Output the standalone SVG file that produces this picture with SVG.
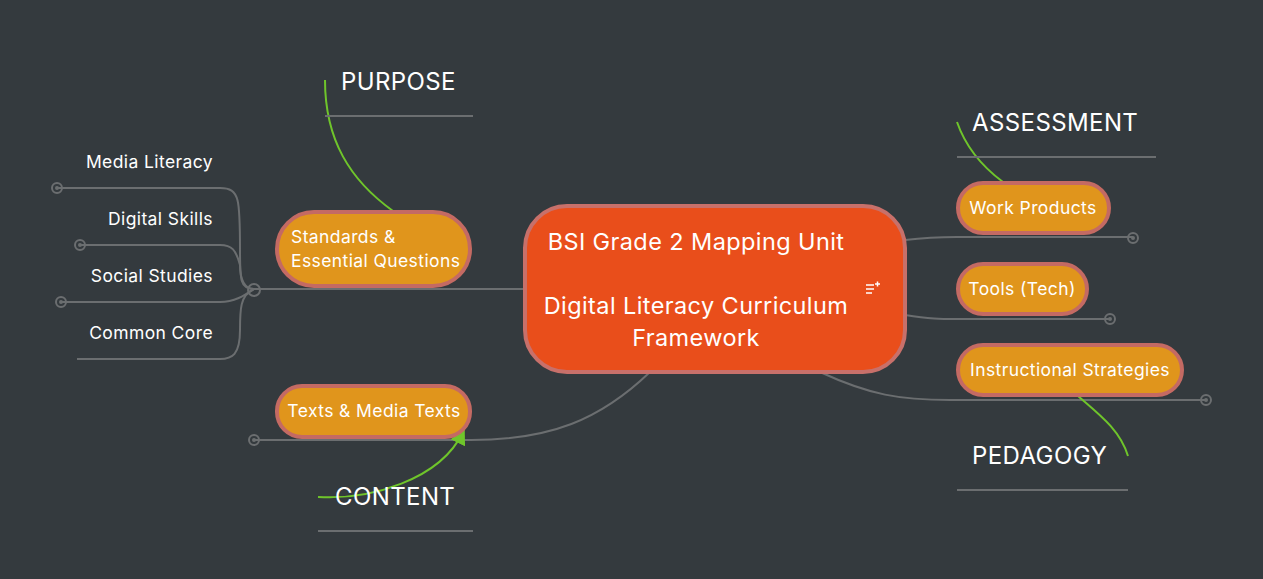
<svg xmlns="http://www.w3.org/2000/svg" width="1263" height="579" viewBox="0 0 1263 579">
<style>
text{font-family:Inter,"Noto Sans",sans-serif;fill:#fff;letter-spacing:0.4px}
.c{fill:none;stroke:#6b6e70;stroke-width:2}
.g{fill:none;stroke:#6fc52b;stroke-width:2}
.u{stroke:#6b6e70;stroke-width:2}
.sub{fill:#e0951c;stroke:#c46a63;stroke-width:4}
.s{font-size:17.5px}
.l{font-size:17.5px}
.end{fill:none;stroke:#6b6e70;stroke-width:2}
.dot{fill:#6b6e70}
</style>
<defs><marker id="ah" markerWidth="8" markerHeight="8" refX="6" refY="4" orient="auto"><path d="M0,0L8,4L0,8z" fill="#6fc52b"/></marker></defs>
<rect width="1263" height="579" fill="#343a3e"/>
<g id="connectors">
<path class="c" d="M254,289H525"/>
<path class="c" d="M254,289C240,289 240,280 240,250 C240,200 240,188 220,188 H57"/>
<path class="c" d="M254,289C245,289 240,280 240,265 C236,250 232,245 220,245 H80"/>
<path class="c" d="M254,289C245,295 235,302 220,302 H61"/>
<path class="c" d="M254,289C240,295 240,310 240,330 C240,355 232,359 220,359 H77"/>
<path class="c" d="M650,372C600,420 550,440 471,440 H254"/>
<path class="c" d="M905,240C930,237 940,237 957,237 H1133"/>
<path class="c" d="M905,315C930,319 940,319 957,319 H1110"/>
<path class="c" d="M820,372C870,395 900,400 950,400 H1205"/>
<circle class="end" cx="254" cy="290" r="6" fill="#343a3e"/>
<g><circle class="end" cx="57" cy="188" r="5"/><circle class="dot" cx="57" cy="188" r="2"/></g>
<g><circle class="end" cx="80" cy="245" r="5"/><circle class="dot" cx="80" cy="245" r="2"/></g>
<g><circle class="end" cx="61" cy="302" r="5"/><circle class="dot" cx="61" cy="302" r="2"/></g>
<g><circle class="end" cx="254" cy="440" r="5"/><circle class="dot" cx="254" cy="440" r="2"/></g>
<g><circle class="end" cx="1133" cy="238" r="5"/><circle class="dot" cx="1133" cy="238" r="2"/></g>
<g><circle class="end" cx="1110" cy="319" r="5"/><circle class="dot" cx="1110" cy="319" r="2"/></g>
<g><circle class="end" cx="1206" cy="400" r="5"/><circle class="dot" cx="1206" cy="400" r="2"/></g>
<path class="g" d="M325,80C325,140 350,180 393,211"/>
<path class="g" d="M957,122C965,145 980,165 1003,182"/>
<path class="g" d="M1078,396C1100,415 1120,430 1128,456"/>
<path class="g" d="M318,497C370,500 440,480 463,432" marker-end="url(#ah)"/>
<path class="u" d="M325,116H473M957,157H1156M957,490H1128M318,531H473"/>
</g>
<g id="main"><rect x="525" y="206" width="380" height="166" rx="42" fill="#e94e1b" stroke="#c8706a" stroke-width="4"/>
<text x="696" y="250" text-anchor="middle" font-size="23.5">BSI Grade 2 Mapping Unit</text>
<text x="696" y="314" text-anchor="middle" font-size="23.5">Digital Literacy Curriculum</text>
<text x="696" y="346" text-anchor="middle" font-size="23.5">Framework</text>
<path d="M866,285h8M866,289h8M866,293h6M875,284h5M877.5,281.5v5" stroke="#fff" stroke-width="1.5"/></g>
<g id="standards"><rect class="sub" x="277" y="212" width="193" height="74" rx="37"/><text class="s" x="291" y="243">Standards &amp;</text><text class="s" x="291" y="267">Essential Questions</text></g>
<g id="texts"><rect class="sub" x="277" y="386" width="193" height="51" rx="25"/><text class="s" x="374" y="417" text-anchor="middle">Texts &amp; Media Texts</text></g>
<g id="work"><rect class="sub" x="958" y="183" width="151" height="50" rx="25"/><text class="s" x="1033" y="214" text-anchor="middle">Work Products</text></g>
<g id="tools"><rect class="sub" x="958" y="264" width="129" height="50" rx="25"/><text class="s" x="1022" y="295" text-anchor="middle">Tools (Tech)</text></g>
<g id="instr"><rect class="sub" x="958" y="345" width="224" height="50" rx="25"/><text class="s" x="1070" y="376" text-anchor="middle">Instructional Strategies</text></g>
<g id="leaves"><text class="l" x="213" y="168" text-anchor="end">Media Literacy</text><text class="l" x="213" y="225" text-anchor="end">Digital Skills</text><text class="l" x="213" y="282" text-anchor="end">Social Studies</text><text class="l" x="213" y="339" text-anchor="end">Common Core</text></g>
<g id="labels"><text x="341" y="90" font-size="24">PURPOSE</text><text x="972" y="131" font-size="24">ASSESSMENT</text><text x="972" y="464" font-size="24">PEDAGOGY</text><text x="335" y="505" font-size="24">CONTENT</text></g>
</svg>
